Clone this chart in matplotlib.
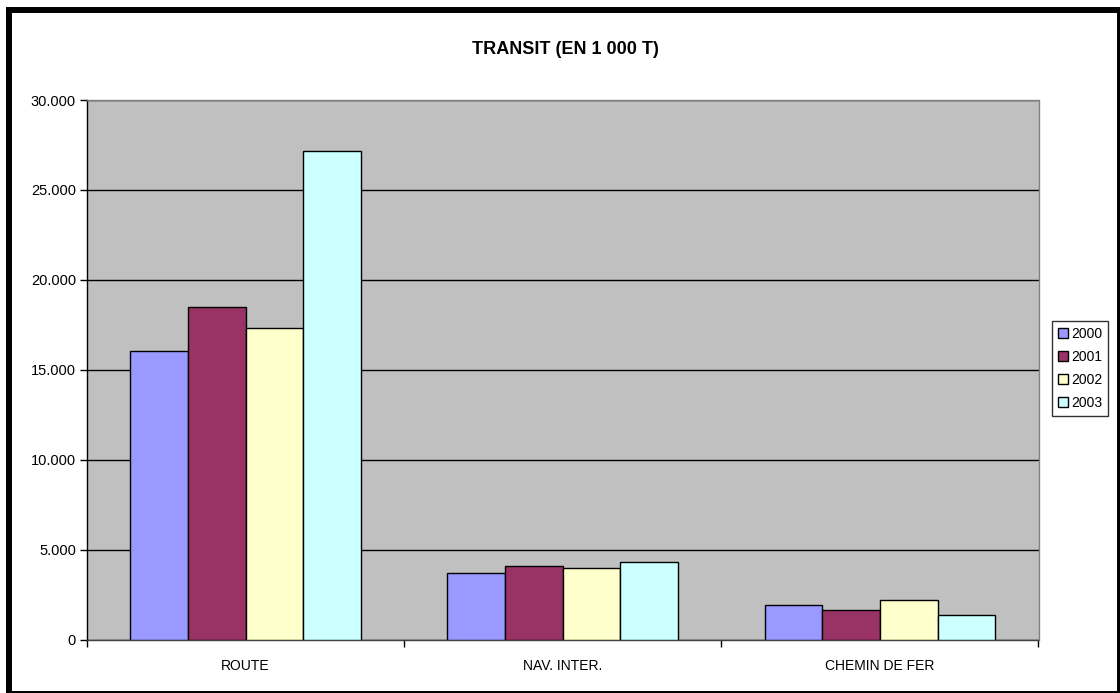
import matplotlib
matplotlib.use("Agg")
import matplotlib.pyplot as plt
import numpy as np
from matplotlib.patches import Rectangle
from matplotlib.ticker import FuncFormatter, FixedLocator

plt.rcParams["font.family"] = ["Liberation Sans", "DejaVu Sans"]

categories = ["ROUTE", "NAV. INTER.", "CHEMIN DE FER"]
years = ["2000", "2001", "2002", "2003"]
values = {
    "2000": [16050, 3700, 1900],
    "2001": [18490, 4070, 1660],
    "2002": [17340, 3990, 2180],
    "2003": [27180, 4310, 1360],
}
colors = ["#9999FF", "#993366", "#FFFFCC", "#CCFFFF"]
y_ticks = [0, 5000, 10000, 15000, 20000, 25000, 30000]

fig = plt.figure(figsize=(11.2, 6.93), dpi=100)
ax = fig.add_axes([87 / 1120, 1 - 639.5 / 693, (1038.5 - 87) / 1120, (639.5 - 100) / 693])
ax.set_facecolor("#C0C0C0")

x = np.arange(len(categories))
width = 1 / 5.5
for i, year in enumerate(years):
    ax.bar(x + (i - 1.5) * width, values[year], width, color=colors[i],
           edgecolor="black", linewidth=1, label=year, zorder=3)

ax.set_xlim(-0.5, 2.5)
ax.set_ylim(0, 30000)
ax.yaxis.set_major_locator(FixedLocator(y_ticks))
ax.yaxis.set_major_formatter(FuncFormatter(lambda v, p: f"{v:,.0f}".replace(",", ".")))
ax.grid(axis="y", color="black", linewidth=1, zorder=1)

ax.set_xticks(x)
ax.set_xticklabels(categories, fontsize=10)
ax.set_xticks([-0.5, 0.5, 1.5, 2.5], minor=True)
ax.tick_params(axis="x", which="major", length=0, pad=14)
ax.tick_params(axis="x", which="minor", length=5, width=1, direction="out", color="black")
ax.tick_params(axis="y", length=5, width=1, direction="out", labelsize=10.5, pad=3)

ax.spines["left"].set_color("black")
ax.spines["bottom"].set_color("#404040")
ax.spines["top"].set_color("#808080")
ax.spines["right"].set_color("#808080")
for s in ax.spines.values():
    s.set_linewidth(1)

fig.text(565 / 1120, 1 - 49 / 693, "TRANSIT (EN 1 000 T)", ha="center", va="center",
         fontsize=13, fontweight="bold")

leg = fig.legend(loc="upper left", bbox_to_anchor=(1052 / 1120, 1 - 321.5 / 693),
                 fontsize=10, frameon=True, fancybox=False, handlelength=0.75,
                 handleheight=0.75, handletextpad=0.2, labelspacing=0.65,
                 borderpad=0.4, borderaxespad=0)
leg.get_frame().set_edgecolor("black")
leg.get_frame().set_linewidth(1)

# thick black frame, right and bottom edges run partly off the image
fig.patches.append(Rectangle((9 / 1120, 1 - 694 / 693), 1111 / 1120, 684 / 693,
                             transform=fig.transFigure, fill=False,
                             edgecolor="black", linewidth=4.3))

fig.savefig("out.png", dpi=100)
